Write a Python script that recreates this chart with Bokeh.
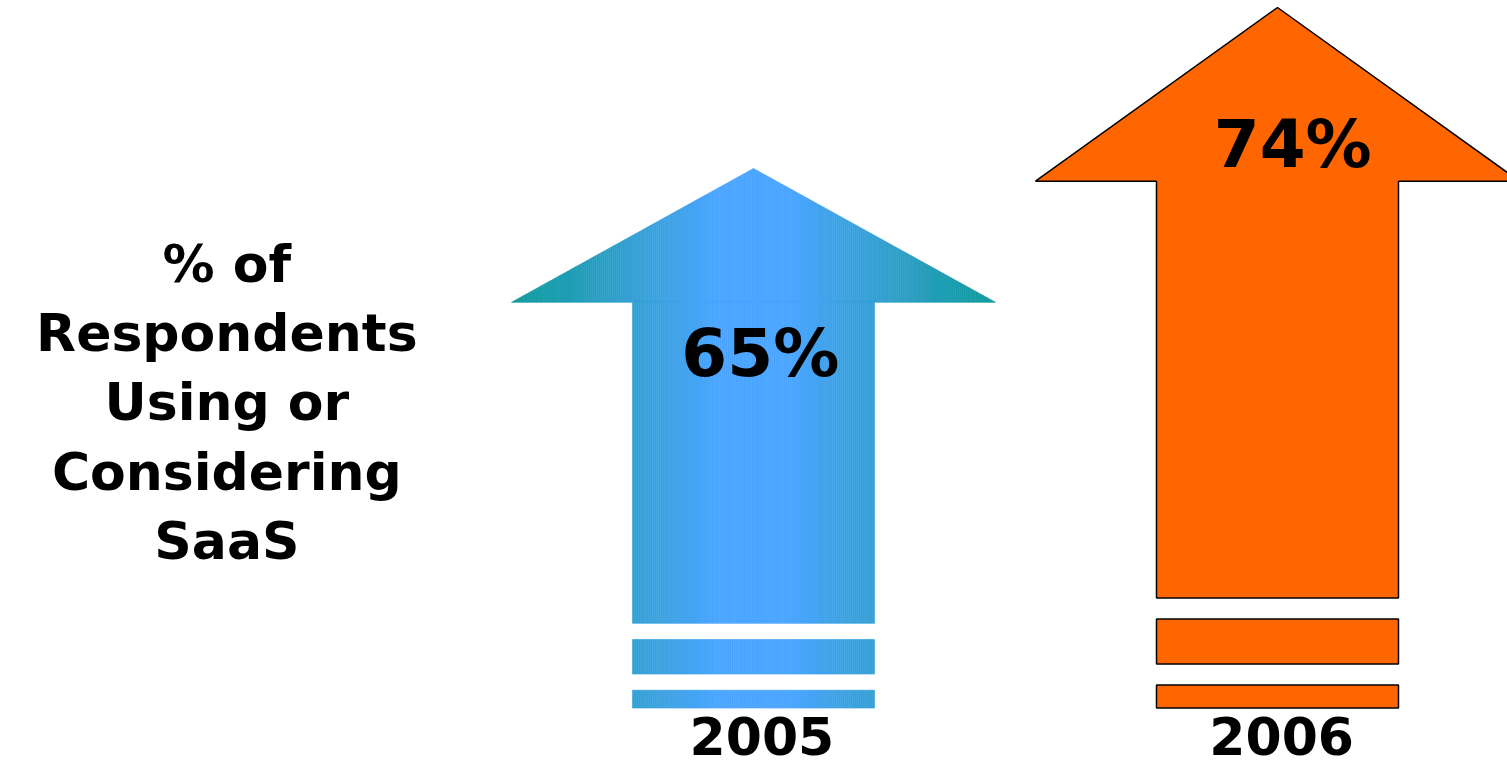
import numpy as np
from bokeh.plotting import figure
from bokeh.models import Range1d
from bokeh.core.properties import value
from bokeh.embed import file_html
from bokeh.resources import INLINE

# ---------------- data ----------------
years = ["2005", "2006"]
values = [65, 74]
value_labels = ["65%", "74%"]
title_lines = ["% of", "Respondents", "Using or", "Considering", "SaaS"]
positions = [1, 2]

# ---------------- styles / layout ----------------
BLUE_CENTER = np.array([75, 165, 255])
BLUE_EDGE = np.array([15, 154, 152])
ORANGE = "#FF6600"
FONT = value("DejaVu Sans")

BASE = 34.84            # common baseline of the arrows (value units)
HEAD_HALF = 0.4618      # half width of arrow head (x units)
SHAFT_HALF = 0.2309     # half width of shaft (x units)
F_HEAD = 0.248          # head base, fraction of arrow length from tip
F_SHAFT = 0.843         # shaft bottom, fraction from tip
STRIPES = [(0.873, 0.937), (0.967, 1.0)]
LABEL_DROP = [11.74, 9.06]
LABEL_DX = [0.013, 0.029]
YEAR_DX = [0.016, 0.008]
YEAR_Y = 32.13
TITLE_X = -0.005
TITLE_TOP = 58.57
TITLE_STEP = 3.88
BASELINE_FIX = -0.385   # em, compensates the renderer's baseline placement

p = figure(width=1507, height=769,
           x_range=Range1d(-0.43702, 2.43893),
           y_range=Range1d(31.404, 74.391),
           x_axis_type=None, y_axis_type=None,
           output_backend="svg", toolbar_location=None, min_border=0)
p.outline_line_color = None
p.background_fill_color = "white"
p.border_fill_color = "white"


def ylev(tip, f):
    return tip - f * (tip - BASE)


def grad_color(dx):
    t = abs(dx) / HEAD_HALF
    f = min(max((t - 0.15) / 0.85, 0.0), 1.0)
    c = BLUE_CENTER * (1 - f) + BLUE_EDGE * f
    return "#%02x%02x%02x" % tuple(int(round(v)) for v in c)


for i, (xc, v) in enumerate(zip(positions, values)):
    head_base = ylev(v, F_HEAD)
    shaft_bot = ylev(v, F_SHAFT)
    head_h = v - head_base
    if i == 0:
        # gradient-filled arrow, built from thin vertical slices
        n = 240
        edges = np.linspace(-HEAD_HALF, HEAD_HALF, n + 1)
        xs, ys, cols = [], [], []
        for a, b in zip(edges[:-1], edges[1:]):
            ta = v - abs(a) / HEAD_HALF * head_h
            tb = v - abs(b) / HEAD_HALF * head_h
            xs.append([xc + a, xc + b, xc + b, xc + a])
            ys.append([head_base, head_base, tb, ta])
            cols.append(grad_color((a + b) / 2))
        p.patches(xs, ys, fill_color=cols, line_color=cols, line_width=0.6)
        m = 120
        sedges = np.linspace(-SHAFT_HALF, SHAFT_HALF, m + 1)
        left = xc + sedges[:-1]
        right = xc + sedges[1:]
        scol = [grad_color((a + b) / 2) for a, b in zip(sedges[:-1], sedges[1:])]
        segs = [(F_HEAD - 0.002, F_SHAFT)] + STRIPES
        for f0, f1 in segs:
            p.quad(left=left, right=right,
                   top=[ylev(v, f0)] * m, bottom=[ylev(v, f1)] * m,
                   fill_color=scol, line_color=scol, line_width=0.6)
    else:
        px = [xc - SHAFT_HALF, xc - SHAFT_HALF, xc - HEAD_HALF, xc,
              xc + HEAD_HALF, xc + SHAFT_HALF, xc + SHAFT_HALF]
        py = [shaft_bot, head_base, head_base, v, head_base, head_base, shaft_bot]
        p.patch(px, py, fill_color=ORANGE, line_color="black", line_width=1.5)
        for f0, f1 in STRIPES:
            p.quad(left=[xc - SHAFT_HALF], right=[xc + SHAFT_HALF],
                   top=[ylev(v, f0)], bottom=[ylev(v, f1)],
                   fill_color=ORANGE, line_color="black", line_width=1.5)


def add_text(xs, ys, texts, size):
    p.text(x=xs, y=ys, text=texts, text_font=FONT, text_font_style="bold",
           text_font_size=f"{size}px", text_align="center",
           text_baseline="alphabetic", text_color="black",
           y_offset=BASELINE_FIX * size)


# value labels
add_text([x + d for x, d in zip(positions, LABEL_DX)],
         [v - d for v, d in zip(values, LABEL_DROP)], value_labels, 66)

# year labels
add_text([x + d for x, d in zip(positions, YEAR_DX)],
         [YEAR_Y] * len(years), years, 52)

# left title
add_text([TITLE_X] * len(title_lines),
         [TITLE_TOP - k * TITLE_STEP for k in range(len(title_lines))],
         title_lines, 52)

open("out.html", "w").write(file_html(p, INLINE))
